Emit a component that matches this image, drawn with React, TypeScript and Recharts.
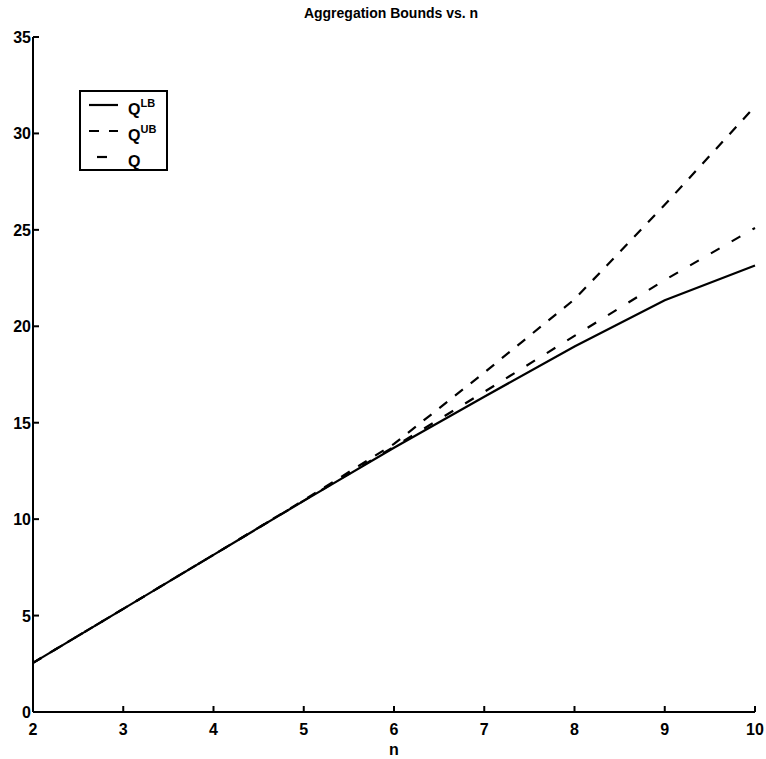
import { LineChart, Line, XAxis, YAxis, Legend } from "recharts"

const N_VALUES = [2, 3, 4, 5, 6, 7, 8, 9, 10]
const Q_LB = [2.55, 5.35, 8.15, 10.95, 13.7, 16.35, 18.95, 21.35, 23.15]
const Q_UB = [2.55, 5.35, 8.15, 10.98, 13.9, 17.6, 21.4, 26.3, 31.4]
const Q_MID = [2.55, 5.35, 8.15, 10.96, 13.75, 16.6, 19.5, 22.4, 25.1]
const X_TICKS = [2, 3, 4, 5, 6, 7, 8, 9, 10]
const Y_TICKS = [0, 5, 10, 15, 20, 25, 30, 35]

const SERIES = [
    { key: "qlb", base: "Q", sup: "LB", dash: undefined as string | undefined, sample: [10, 39] },
    { key: "qub", base: "Q", sup: "UB", dash: "10 10", sample: [10, 39] },
    { key: "q", base: "Q", sup: "", dash: undefined as string | undefined, sample: [18, 28] },
]

const data = N_VALUES.map((n, i) => ({ n, qlb: Q_LB[i], qub: Q_UB[i], q: Q_MID[i] }))

const FONT = "'Liberation Sans', Arial, sans-serif"

const BottomTick = (props: any) => {
    const { x, y, payload } = props
    return (
        <g>
            <line x1={x} x2={x} y1={y} y2={y - 6} stroke="#000" strokeWidth={2} />
            <text x={x} y={y + 23} textAnchor="middle" fontFamily={FONT} fontWeight="bold" fontSize={16} fill="#000">
                {payload.value}
            </text>
        </g>
    )
}

const LeftTick = (props: any) => {
    const { x, y, payload } = props
    return (
        <g>
            <line x1={x} x2={x + 6} y1={y} y2={y} stroke="#000" strokeWidth={2} />
            <text x={x - 2} y={y + 6} textAnchor="end" fontFamily={FONT} fontWeight="bold" fontSize={16} fill="#000">
                {payload.value}
            </text>
        </g>
    )
}

const TopTick = (props: any) => {
    const { x, y } = props
    return <line x1={x} x2={x} y1={y} y2={y + 6} stroke="#000" strokeWidth={2} />
}

const RightTick = (props: any) => {
    const { x, y } = props
    return <line x1={x} x2={x - 6} y1={y} y2={y} stroke="#000" strokeWidth={2} />
}

const LegendBox = () => (
    <svg width={89} height={81} style={{ display: "block" }}>
        <rect x={1} y={1} width={87} height={79} fill="#fff" stroke="#000" strokeWidth={2} />
        {SERIES.map((s, i) => {
            const cy = 15 + i * 26
            return (
                <g key={s.key}>
                    <line x1={s.sample[0]} x2={s.sample[1]} y1={cy} y2={cy} stroke="#000" strokeWidth={2.2} strokeDasharray={s.dash} />
                    <text x={49} y={cy + 10} fontFamily={FONT} fontWeight="bold" fontSize={16} fill="#000">
                        {s.base}
                        {s.sup && (
                            <tspan dy={-8} fontSize={11}>{s.sup}</tspan>
                        )}
                    </text>
                </g>
            )
        })}
    </svg>
)

export default function App() {
    return (
        <div style={{ position: "absolute", left: 0, top: 0, width: 766, height: 759, background: "#fff" }}>
            <div style={{ position: "absolute", left: 0, top: 5, width: 782, textAlign: "center", fontFamily: FONT, fontWeight: "bold", fontSize: 14, color: "#000" }}>
                Aggregation Bounds vs. n
            </div>
            <LineChart width={766} height={759} data={data} margin={{ top: 37, right: 11, bottom: 0, left: 0 }}>
                <XAxis dataKey="n" type="number" domain={[2, 10]} ticks={X_TICKS} height={47} axisLine={{ stroke: "#000", strokeWidth: 2 }}
                    tickLine={false} tickSize={0} tickMargin={0} tick={<BottomTick />} interval={0}
                    label={{ value: "n", position: "insideBottom", offset: 4, fontFamily: FONT, fontWeight: "bold", fontSize: 16, fill: "#000" }} />
                <XAxis xAxisId="top" orientation="top" dataKey="n" type="number" domain={[2, 10]} ticks={X_TICKS} height={0}
                    axisLine={{ stroke: "#000", strokeWidth: 2 }} tickLine={false} tickSize={0} tickMargin={0} tick={<TopTick />} interval={0} />
                <YAxis type="number" domain={[0, 35]} ticks={Y_TICKS} width={33} axisLine={{ stroke: "#000", strokeWidth: 2 }}
                    tickLine={false} tickSize={0} tickMargin={0} tick={<LeftTick />} interval={0} />
                <YAxis yAxisId="right" orientation="right" type="number" domain={[0, 35]} ticks={Y_TICKS} width={0}
                    axisLine={{ stroke: "#000", strokeWidth: 2 }} tickLine={false} tickSize={0} tickMargin={0} tick={<RightTick />} interval={0} />
                <Legend layout="vertical" align="center" verticalAlign="middle" content={<LegendBox />}
                    wrapperStyle={{ left: 79, top: 90, width: 89, height: 81 }} />
                <Line dataKey="qlb" stroke="#000" strokeWidth={2.2} dot={false} isAnimationActive={false} />
                <Line dataKey="qub" stroke="#000" strokeWidth={2.2} strokeDasharray="10 10" dot={false} isAnimationActive={false} />
                <Line dataKey="q" stroke="#000" strokeWidth={2.2} strokeDasharray="10 14" dot={false} isAnimationActive={false} />
            </LineChart>
        </div>
    )
}
